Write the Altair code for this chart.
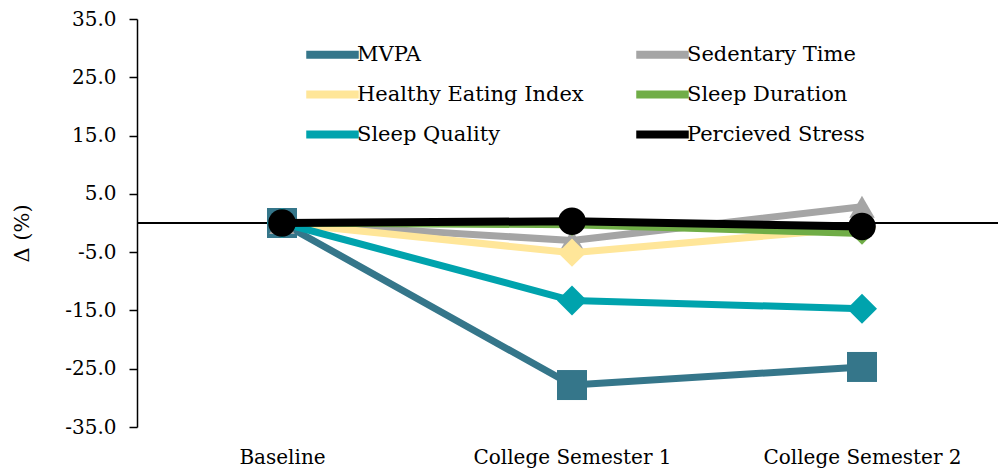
import altair as alt
import pandas as pd

categories = ["Baseline", "College Semester 1", "College Semester 2"]
series = ["MVPA", "Sedentary Time", "Healthy Eating Index", "Sleep Duration",
          "Sleep Quality", "Percieved Stress"]
mvpa = [0.0, -27.8, -24.7]
sedentary = [0.0, -3.0, 2.8]
hei = [0.0, -5.1, -0.8]
sleep_duration = [0.0, -0.3, -1.8]
sleep_quality = [0.0, -13.3, -14.7]
stress = [0.0, 0.3, -0.6]
y_ticks = [-35, -25, -15, -5, 5, 15, 25, 35]

colors = ["#35768A", "#A5A5A5", "#FFE699", "#70AD47", "#00A3AD", "#000000"]
shapes = ["square", "triangle-up", "diamond", "diamond", "diamond", "circle"]
msizes = [900, 650, 800, 500, 900, 760]
lwidths = [7, 7, 7, 7, 7, 8]

values = [mvpa, sedentary, hei, sleep_duration, sleep_quality, stress]
rows = []
for s, vals in zip(series, values):
    for i, v in enumerate(vals):
        rows.append({"series": s, "idx": i, "value": v})
df = pd.DataFrame(rows)

FONT = "DejaVu Serif"
label_list = ",".join("'" + c + "'" for c in categories)

x_enc = alt.X(
    "idx:Q",
    scale=alt.Scale(domain=[-0.5, len(categories) - 1 + 0.469], nice=False, zero=False),
    axis=alt.Axis(values=list(range(len(categories))),
                  labelExpr=f"[{label_list}][datum.value]",
                  title=None, domain=False, ticks=False, grid=False,
                  labelFont=FONT, labelFontSize=20, labelColor="#000000",
                  labelPadding=20, labelLimit=0),
)
y_enc = alt.Y(
    "value:Q",
    scale=alt.Scale(domain=[-35, 35], nice=False, zero=False),
    axis=alt.Axis(values=y_ticks, format=".1f",
                  labelExpr="replace(datum.label, '\u2212', '-')",
                  title="\u0394 (%)", titleFont=FONT, titleFontSize=21,
                  titleFontWeight="normal", titleColor="#000000",
                  titleX=-115, titleY=214, titleAngle=270,
                  titleAlign="center", titleBaseline="middle",
                  grid=False, domainColor="#000000", domainWidth=1.5,
                  tickColor="#000000", tickSize=8, tickWidth=1.5,
                  labelFont=FONT, labelFontSize=20, labelColor="#000000",
                  labelPadding=13, labelLimit=0),
)

color_scale = alt.Scale(domain=series, range=colors)
legend = alt.Legend(
    title=None, orient="none", legendX=181, legendY=21, columns=2,
    direction="horizontal",
    symbolType="M-2.5,0L2.5,0", symbolSize=441, symbolStrokeWidth=8,
    labelFont=FONT, labelFontSize=21, labelColor="#000000", labelLimit=0,
    labelOffset=10, columnPadding=36, rowPadding=7,
)

base = alt.Chart(df)
zero = base.mark_rule(color="#000000", strokeWidth=1.5).encode(y=alt.datum(0))

layers = [zero]
for k, s in enumerate(series):
    sub = base.transform_filter(alt.datum.series == s)
    line = sub.mark_line(strokeWidth=lwidths[k], strokeJoin="round", strokeCap="round").encode(
        x=x_enc, y=y_enc,
        color=alt.Color("series:N", scale=color_scale, legend=legend, sort=series),
    )
    pts = sub.mark_point(filled=True, opacity=1, strokeWidth=0).encode(
        x=x_enc, y=y_enc,
        color=alt.value(colors[k]),
        shape=alt.value(shapes[k]),
        size=alt.value(msizes[k]),
    )
    layers += [line, pts]

chart = alt.layer(*layers).properties(
    width=861, height=408,
    autosize=alt.AutoSizeParams(type="none"),
    padding={"left": 137, "top": 19, "right": 0, "bottom": 47},
    background="#ffffff",
).configure(font=FONT).configure_view(stroke=None)

chart.save("out.html", embed_options={"renderer": "svg", "actions": False})
